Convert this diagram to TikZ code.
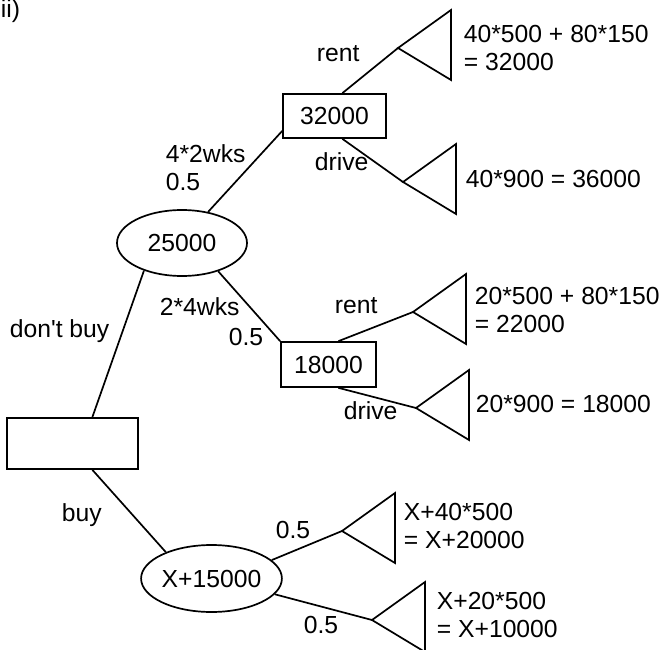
\documentclass[tikz,border=0pt]{standalone}
\usepackage{fontspec}
\setmainfont{Liberation Sans}
\usetikzlibrary{shapes.geometric}
\begin{document}
\begin{tikzpicture}[x=1pt,y=-1pt,
  every node/.style={font=\fontsize{24.7}{28}\selectfont, inner sep=0pt},
  line width=1.7pt,
  decbox/.style={draw, rectangle, line width=1.7pt},
  chance/.style={draw, ellipse, line width=1.7pt, minimum width=130, minimum height=66},
  lbl/.style={anchor=base west},
  payoff/.style={anchor=west, align=left},
  leaf/.pic={\draw (0,0) -- (53,-38) -- (53,32) -- cycle;}]
\useasboundingbox (0,0) rectangle (661,650);

% decision and chance nodes
\node[decbox, minimum width=131, minimum height=51] (root) at (72.5,443.5) {};
\node[chance] (e1) at (182,243) {25000};
\node[chance, minimum width=129, minimum height=67] (e2) at (211.5,578.5) {X+15000};
\node[decbox, minimum width=103, minimum height=44] (b1) at (334.5,116) {32000};
\node[decbox, minimum width=95, minimum height=45] (b2) at (328.5,364.5) {18000};

% end points (triangles)
\coordinate (t1) at (398,48);
\coordinate (t2) at (403,182);
\coordinate (t3) at (413,312);
\coordinate (t4) at (416,408);
\coordinate (t5) at (342,531);
\coordinate (t6) at (372,620);
\foreach \t in {t1,t2,t3,t4,t5,t6} { \pic at (\t) {leaf}; }

% connectors
\draw (root.53) -- (e1.216);
\draw (root.-53) -- (e2.150);
\draw (e1.50) -- (b1.196);
\draw (e1.-38) -- (b2.north west);
\draw (b1.71) -- (t1);
\draw (b1.-71) -- (t2);
\draw (b2.67) -- (t3);
\draw (b2.-67) -- (t4);
\draw (e2.17) -- (t5);
\draw (e2.-14) -- (t6);

% labels
\node[lbl] (lii) at (0,18) {ii)};
\node[lbl] (lr1) at (316,62) {rent};
\node[lbl] (ld1) at (314,171) {drive};
\node[lbl] (l42) at (165,162) {4*2wks};
\node[lbl] (lp1) at (165,190) {0.5};
\node[lbl] (l24) at (159,315) {2*4wks};
\node[lbl] (lp2) at (228,345) {0.5};
\node[lbl] (ldb) at (9,337) {don\textquotesingle t buy};
\node[lbl] (lr2) at (334,313) {rent};
\node[lbl] (ld2) at (343,419) {drive};
\node[lbl] (lbuy) at (61,521) {buy};
\node[lbl] (lp3) at (275,538) {0.5};
\node[lbl] (lp4) at (303,633) {0.5};

% payoffs
\node[payoff] (v1) at (463,48.2) {40*500 + 80*150\\= 32000};
\node[lbl] (v2) at (465,187) {40*900 = 36000};
\node[payoff] (v3) at (474,310.2) {20*500 + 80*150\\= 22000};
\node[lbl] (v4) at (475,412) {20*900 = 18000};
\node[payoff] (v5) at (403,526.2) {X+40*500\\= X+20000};
\node[payoff] (v6) at (436,614.7) {X+20*500\\= X+10000};
\end{tikzpicture}
\end{document}
